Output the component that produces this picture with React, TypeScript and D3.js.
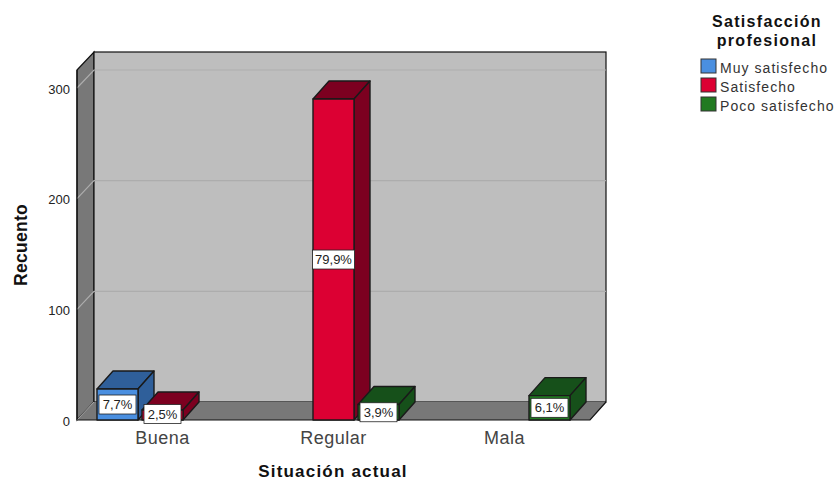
import React from "react";
import * as d3 from "d3";

const categories = ["Buena", "Regular", "Mala"];
const seriesNames = ["Muy satisfecho", "Satisfecho", "Poco satisfecho"];
const muySatisfecho = [28, 0, 0];
const satisfecho = [9, 290, 0];
const pocoSatisfecho = [0, 14, 22];
const muyLabels = ["7,7%", "", ""];
const satLabels = ["2,5%", "79,9%", ""];
const pocoLabels = ["", "3,9%", "6,1%"];
const yTicks = [0, 100, 200, 300];
const colors = ["#4a8fe0", "#dc0033", "#217a21"];
const sideColors = ["#2f5f9a", "#7c0020", "#16501a"];

const font = "'Liberation Sans', Arial, sans-serif";
const left = 77, right = 590, floorY = 420;
const dx = 17, dy = -18, barDx = 16;
const topFront = 70;

export default function App() {
  const y = d3.scaleLinear().domain([0, 300]).range([floorY, 88]);
  const x = d3.scaleBand<string>().domain(categories).range([left, right]);
  const inner = d3.scalePoint<string>().domain(seriesNames).range([-45, 45]);
  const barW = 41;
  const series = [
    { name: seriesNames[0], values: muySatisfecho, labels: muyLabels, i: 0 },
    { name: seriesNames[1], values: satisfecho, labels: satLabels, i: 1 },
    { name: seriesNames[2], values: pocoSatisfecho, labels: pocoLabels, i: 2 },
  ];
  const line = d3.line();
  const poly = (p: [number, number][]) => line(p) + "Z";
  const labelW = (s: string) => (s.length > 4 ? 42 : 37);

  return (
    <svg width={835} height={481} style={{ position: "absolute", left: 0, top: 0, background: "#fff" }} fontFamily={font}>
      {/* walls */}
      <path d={poly([[left, topFront], [left + dx, topFront + dy], [left + dx, floorY + dy], [left, floorY]])} fill="#787878" stroke="#111" strokeWidth={1.2} />
      <rect x={left + dx} y={topFront + dy} width={right - left - 1} height={floorY - topFront} fill="#bebebe" stroke="#111" strokeWidth={1.2} />
      <path d={poly([[left, floorY], [left + dx, floorY + dy], [right + dx - 1, floorY + dy], [right, floorY]])} fill="#787878" stroke="none" />
      <path d={`M${left},${floorY}H${right}L${right + dx - 1},${floorY + dy}`} fill="none" stroke="#111" strokeWidth={1.2} />
      {/* gridlines */}
      {yTicks.slice(1).map((t) => (
        <path key={t} d={`M${left},${y(t)}L${left + dx},${y(t) + dy}H${right + dx - 1}`} fill="none" stroke="#adadad" strokeWidth={1.2} />
      ))}
      <path d={`M${left},${floorY}L${left + dx},${floorY + dy}`} fill="none" stroke="#a9a9a9" strokeWidth={1} />
      {/* y axis */}
      <path d={`M${left},${topFront}V${floorY}`} stroke="#111" strokeWidth={1.2} />
      {yTicks.map((t) => (
        <text key={t} x={left - 7} y={y(t) + 5.5} textAnchor="end" fontSize={13} fill="#222">{t}</text>
      ))}
      {/* bars */}
      {categories.map((c, ci) =>
        series.map((s) => {
          const v = s.values[ci];
          if (!v) return null;
          const cx = x(c)! + x.bandwidth() / 2 + inner(s.name)!;
          const x0 = cx - barW / 2, x1 = cx + barW / 2, top = y(v);
          return (
            <g key={c + s.name} stroke="#1a1a1a" strokeWidth={1.4} strokeLinejoin="round">
              <path d={poly([[x0, top], [x0 + barDx, top + dy], [x1 + barDx, top + dy], [x1, top]])} fill={sideColors[s.i]} />
              <path d={poly([[x1, top], [x1 + barDx, top + dy], [x1 + barDx, floorY + dy], [x1, floorY]])} fill={sideColors[s.i]} />
              <rect x={x0} y={top} width={barW} height={floorY - top} fill={colors[s.i]} />
            </g>
          );
        })
      )}
      {/* data labels */}
      {categories.map((c, ci) =>
        series.map((s) => {
          const lab = s.labels[ci];
          if (!lab) return null;
          const cx = x(c)! + x.bandwidth() / 2 + inner(s.name)!;
          const h = 19, w = labelW(lab);
          const mid = Math.min((y(s.values[ci]) + floorY) / 2, floorY - 6);
          return (
            <g key={c + s.name + "l"}>
              <rect x={cx - w / 2} y={mid - h / 2} width={w} height={h} fill="#fff" stroke="#222" strokeWidth={0.8} />
              <text x={cx} y={mid + 4.6} textAnchor="middle" fontSize={13} fill="#222">{lab}</text>
            </g>
          );
        })
      )}
      {/* x labels */}
      {categories.map((c) => (
        <text key={c} x={x(c)! + x.bandwidth() / 2} y={444} textAnchor="middle" fontSize={18} letterSpacing={0.5} fill="#444">{c}</text>
      ))}
      <text x={333} y={477} textAnchor="middle" fontSize={17} fontWeight="bold" letterSpacing={1.2} fill="#111">Situación actual</text>
      <text transform="translate(27,245) rotate(-90)" textAnchor="middle" fontSize={17.5} fontWeight="bold" letterSpacing={0.3} fill="#111">Recuento</text>
      {/* legend */}
      <text x={767} y={27} textAnchor="middle" fontSize={16} fontWeight="bold" letterSpacing={1.3} fill="#111">Satisfacción</text>
      <text x={767} y={46} textAnchor="middle" fontSize={16} fontWeight="bold" letterSpacing={1.3} fill="#111">profesional</text>
      {seriesNames.map((n, i) => (
        <g key={n}>
          <rect x={701} y={59 + i * 19} width={15} height={14} fill={colors[i]} stroke="#333" strokeWidth={1} />
          <text x={720} y={72.5 + i * 19} fontSize={14} letterSpacing={1.05} fill="#333">{n}</text>
        </g>
      ))}
    </svg>
  );
}
